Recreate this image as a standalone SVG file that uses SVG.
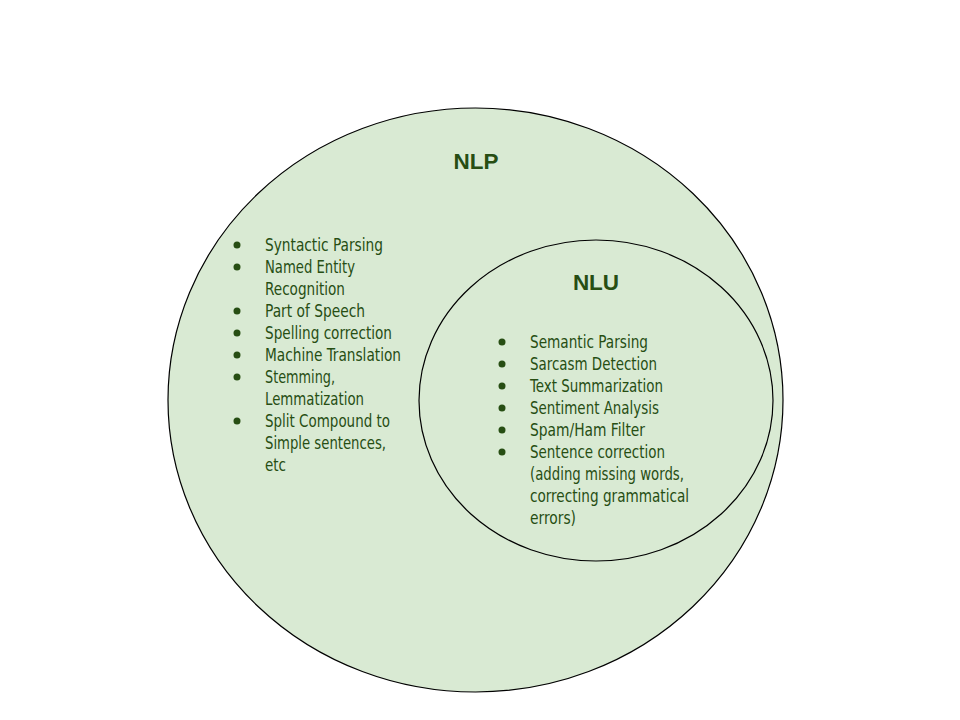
<svg xmlns="http://www.w3.org/2000/svg" width="960" height="720" viewBox="0 0 960 720">
<style>
.set{fill:#d9ead3;stroke:#000;stroke-width:1.2}
.title{font-family:"Liberation Sans",Arial,sans-serif;font-weight:bold;font-size:22.5px;fill:#274e13;text-anchor:middle}
.item{font-family:"DejaVu Sans Condensed","Liberation Sans Narrow",sans-serif;font-size:18.5px;fill:#274e13}
.dot{fill:#274e13}
</style>
<rect width="960" height="720" fill="#fff"/>
<g id="nlp">
<ellipse class="set" cx="475.5" cy="400" rx="307.5" ry="292"/>
<text class="title" x="476" y="169">NLP</text>
<g>
<circle class="dot" cx="237" cy="245" r="3.5"/>
<circle class="dot" cx="237" cy="267" r="3.5"/>
<circle class="dot" cx="237" cy="311" r="3.5"/>
<circle class="dot" cx="237" cy="333" r="3.5"/>
<circle class="dot" cx="237" cy="355" r="3.5"/>
<circle class="dot" cx="237" cy="377" r="3.5"/>
<circle class="dot" cx="237" cy="421" r="3.5"/>
</g>
<text class="item" x="265" y="251" textLength="118" lengthAdjust="spacingAndGlyphs">Syntactic Parsing</text>
<text class="item" x="265" y="273" textLength="90" lengthAdjust="spacingAndGlyphs">Named Entity</text>
<text class="item" x="265" y="295" textLength="80" lengthAdjust="spacingAndGlyphs">Recognition</text>
<text class="item" x="265" y="317" textLength="100" lengthAdjust="spacingAndGlyphs">Part of Speech</text>
<text class="item" x="265" y="339" textLength="127" lengthAdjust="spacingAndGlyphs">Spelling correction</text>
<text class="item" x="265" y="361" textLength="136" lengthAdjust="spacingAndGlyphs">Machine Translation</text>
<text class="item" x="265" y="383" textLength="70" lengthAdjust="spacingAndGlyphs">Stemming,</text>
<text class="item" x="265" y="405" textLength="99" lengthAdjust="spacingAndGlyphs">Lemmatization</text>
<text class="item" x="265" y="427" textLength="125" lengthAdjust="spacingAndGlyphs">Split Compound to</text>
<text class="item" x="265" y="449" textLength="121" lengthAdjust="spacingAndGlyphs">Simple sentences,</text>
<text class="item" x="265" y="471" textLength="21" lengthAdjust="spacingAndGlyphs">etc</text>
</g>
<g id="nlu">
<ellipse class="set" cx="596" cy="400.5" rx="177" ry="160.5"/>
<text class="title" x="596" y="290">NLU</text>
<g>
<circle class="dot" cx="502" cy="342" r="3.5"/>
<circle class="dot" cx="502" cy="364" r="3.5"/>
<circle class="dot" cx="502" cy="386" r="3.5"/>
<circle class="dot" cx="502" cy="408" r="3.5"/>
<circle class="dot" cx="502" cy="430" r="3.5"/>
<circle class="dot" cx="502" cy="452" r="3.5"/>
</g>
<text class="item" x="530" y="348" textLength="118" lengthAdjust="spacingAndGlyphs">Semantic Parsing</text>
<text class="item" x="530" y="370" textLength="127" lengthAdjust="spacingAndGlyphs">Sarcasm Detection</text>
<text class="item" x="530" y="392" textLength="133" lengthAdjust="spacingAndGlyphs">Text Summarization</text>
<text class="item" x="530" y="414" textLength="129" lengthAdjust="spacingAndGlyphs">Sentiment Analysis</text>
<text class="item" x="530" y="436" textLength="115" lengthAdjust="spacingAndGlyphs">Spam/Ham Filter</text>
<text class="item" x="530" y="458" textLength="135" lengthAdjust="spacingAndGlyphs">Sentence correction</text>
<text class="item" x="530" y="480" textLength="154" lengthAdjust="spacingAndGlyphs">(adding missing words,</text>
<text class="item" x="530" y="502" textLength="159" lengthAdjust="spacingAndGlyphs">correcting grammatical</text>
<text class="item" x="530" y="524" textLength="46" lengthAdjust="spacingAndGlyphs">errors)</text>
</g>
<g id="connectors"></g>
</svg>
